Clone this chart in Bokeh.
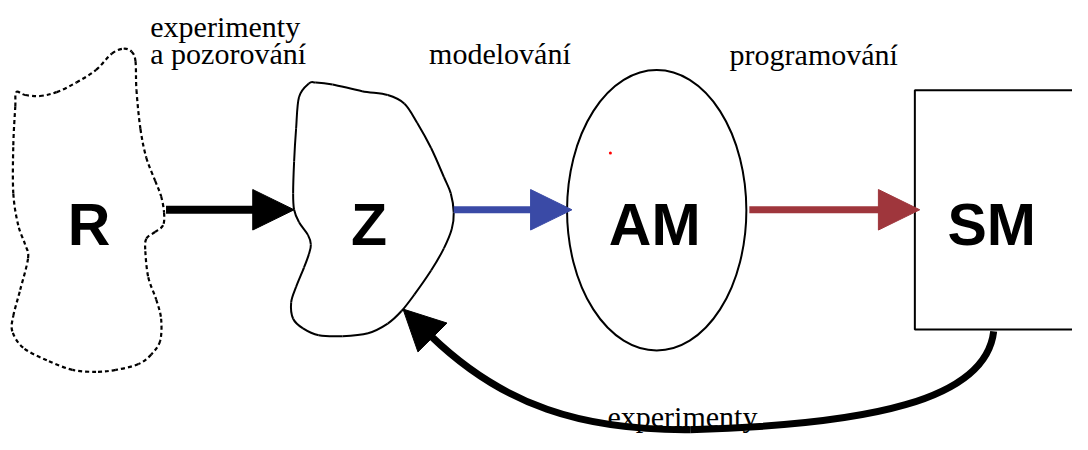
import numpy as np
from bokeh.plotting import figure
from bokeh.models import Range1d
from bokeh.core.properties import value
from bokeh.embed import file_html
from bokeh.resources import INLINE

# ---- texts ----
node_labels = ["R", "Z", "AM", "SM"]
node_x = [90, 374, 664, 1006]
node_y = [233, 233, 233, 233]

step_labels = ["experimenty", "a pozorování", "modelování", "programování", "experimenty"]
step_x = [152, 152, 435, 740, 616]
step_y = [27, 55, 55, 56, 431]

# ---- outlines ----
R_x = [16, 25, 40, 57, 77, 97, 113, 125, 133, 137, 138, 142, 148, 157, 163, 166, 165, 157, 148, 147,
       150, 158, 163, 162, 153, 140, 117, 97, 73, 47, 23, 12, 13, 20, 28, 25, 18, 13, 13, 15]
R_y = [95, 98, 99, 95, 85, 72, 55, 50, 53, 63, 93, 133, 163, 187, 203, 220, 233, 240, 247, 260,
       287, 310, 330, 353, 367, 377, 383, 385, 383, 373, 360, 343, 327, 300, 267, 253, 233, 200, 150, 110]

Z_x = [313, 303, 300, 298, 297, 298, 303, 312, 315, 313, 308, 300, 295, 297, 307, 323, 347, 373, 393, 407,
       420, 437, 450, 458, 460, 457, 450, 437, 423, 410, 393, 367, 337, 320]
Z_y = [86, 100, 133, 167, 200, 217, 230, 243, 253, 263, 277, 297, 313, 330, 340, 347, 348, 345, 335, 322,
       305, 280, 257, 237, 220, 200, 183, 153, 127, 107, 98, 94, 87, 85]

# ellipse AM, box SM
am_cx, am_cy, am_w, am_h = [666], [217.5], [182], [291]
sm_left, sm_right, sm_top, sm_bottom = [928], [1110], [93], [341]

# straight arrows: tail x, tip x, y
arr_tail = [168, 460, 760]
arr_tip = [298, 580, 933]
arr_y = [217, 217, 217]
arr_color = ["#000000", "#3a4aa6", "#9f363c"]
arr_width = [8, 7, 7]

# curved return arrow (two cubic pieces)
cb_x0 = [1008, 700]; cb_y0 = [343, 445]
cb_cx0 = [1000, 590]; cb_cy0 = [415, 446]
cb_cx1 = [880, 510]; cb_cy1 = [440, 420]
cb_x1 = [700, 437]; cb_y1 = [445, 348]

HEAD_L, HEAD_W = 42, 21


def smooth_closed(xs, ys):
    x = np.array(xs, float); y = np.array(ys, float)
    n = len(x)
    i0 = np.arange(n); im = (i0 - 1) % n; i1 = (i0 + 1) % n; i2 = (i0 + 2) % n
    return dict(x0=x[i0], y0=y[i0], x1=x[i1], y1=y[i1],
                cx0=x[i0] + (x[i1] - x[im]) / 6, cy0=y[i0] + (y[i1] - y[im]) / 6,
                cx1=x[i1] - (x[i2] - x[i0]) / 6, cy1=y[i1] - (y[i2] - y[i0]) / 6)


def head(tx, ty, dx, dy):
    n = np.hypot(dx, dy); ux, uy = dx / n, dy / n
    bx, by = tx - ux * HEAD_L, ty - uy * HEAD_L
    px, py = -uy, ux
    return [tx, bx + px * HEAD_W, bx - px * HEAD_W], [ty, by + py * HEAD_W, by - py * HEAD_W]


p = figure(width=1072, height=434, x_range=Range1d(0, 1088), y_range=Range1d(450, 0),
           x_axis_type=None, y_axis_type=None, output_backend="svg", toolbar_location=None,
           min_border=0)
p.outline_line_color = None
p.background_fill_color = "white"
p.border_fill_color = "white"

# R (dotted blob)
p.bezier(**smooth_closed(R_x, R_y), line_color="black", line_width=2.2, line_dash="4 3")
# Z blob
p.bezier(**smooth_closed(Z_x, Z_y), line_color="black", line_width=2)
# AM ellipse
p.ellipse(x=am_cx, y=am_cy, width=am_w, height=am_h, fill_color=None, line_color="black", line_width=2)
# SM box
p.quad(left=sm_left, right=sm_right, top=sm_top, bottom=sm_bottom, fill_color=None,
       line_color="black", line_width=2)
# red dot
p.scatter(x=[619], y=[158], size=3, color="red", line_color=None)

# straight arrows
hx, hy = [], []
for t, tip, y in zip(arr_tail, arr_tip, arr_y):
    a, b = head(tip, y, 1, 0)
    hx.append(a); hy.append(b)
p.segment(x0=arr_tail, y0=arr_y, x1=[t - HEAD_L + 2 for t in arr_tip], y1=arr_y,
          line_color=arr_color, line_width=arr_width)
p.patches(hx, hy, fill_color=arr_color, line_color=arr_color, line_width=1)

# curved arrow
p.bezier(x0=cb_x0, y0=cb_y0, x1=cb_x1, y1=cb_y1, cx0=cb_cx0, cy0=cb_cy0, cx1=cb_cx1, cy1=cb_cy1,
         line_color="black", line_width=7)
dx, dy = cb_x1[-1] - cb_cx1[-1], cb_y1[-1] - cb_cy1[-1]
n = np.hypot(dx, dy)
tipx, tipy = cb_x1[-1] + dx / n * (HEAD_L - 2), cb_y1[-1] + dy / n * (HEAD_L - 2)
cx, cy = head(tipx, tipy, dx, dy)
p.patch(cx, cy, fill_color="black", line_color="black", line_width=1)

# texts
p.text(x=node_x, y=node_y, text=node_labels, text_font=value("Liberation Sans"),
       text_font_style="bold", text_font_size="59px", text_align="center",
       text_baseline="alphabetic", text_color="black")
p.text(x=step_x, y=step_y, text=step_labels, text_font=value("Liberation Serif"),
       text_font_size="30px", text_align="left", text_baseline="alphabetic", text_color="black")

open("out.html", "w").write(file_html(p, INLINE))
